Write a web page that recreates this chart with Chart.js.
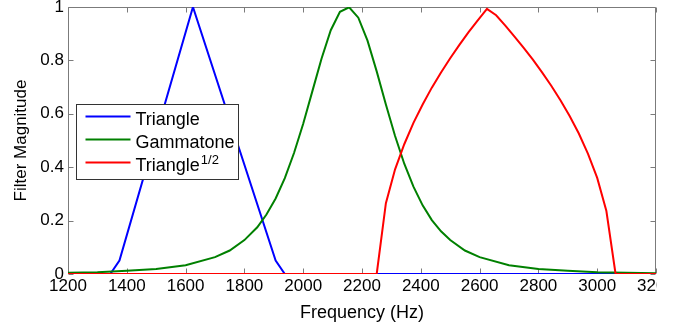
<!DOCTYPE html>
<html>
<head>
<meta charset="utf-8">
<script src="https://cdn.jsdelivr.net/npm/chart.js@4.4.1/dist/chart.umd.min.js"></script>
<style>
  html, body { margin: 0; padding: 0; background: #fff; }
</style>
</head>
<body>
<canvas id="filters" width="683" height="327"></canvas>
<script>
// frequency axis ticks and magnitude ticks
const xTicks = [1200, 1400, 1600, 1800, 2000, 2200, 2400, 2600, 2800, 3000, 3200];
const yTicks = [0, 0.2, 0.4, 0.6, 0.8, 1];

// Triangle filter
const triFreq = [1200, 1343.75, 1375, 1625, 1906.25, 1937.5, 3200];
const triMag = [0, 0, 0.05, 1, 0.05, 0, 0];

// Gammatone filter
const gamFreq = [1200, 1300, 1400, 1500, 1600, 1700, 1750, 1800,
  1843.75, 1875, 1906.25, 1937.5, 1968.75, 2000,
  2031.25, 2062.5, 2093.75, 2125, 2156.25, 2187.5,
  2218.75, 2250, 2281.25, 2312.5, 2343.75, 2375,
  2406.25, 2437.5, 2468.75, 2500,
  2550, 2600, 2700, 2800, 2900, 3000, 3100, 3200];
const gamMag = [0.005, 0.007, 0.012, 0.019, 0.033, 0.063, 0.088, 0.127,
  0.175, 0.223, 0.283, 0.359, 0.453, 0.563,
  0.685, 0.807, 0.913, 0.982, 0.999, 0.960,
  0.874, 0.759, 0.635, 0.517, 0.413, 0.327,
  0.257, 0.202, 0.160, 0.127,
  0.088, 0.063, 0.033, 0.019, 0.012, 0.007, 0.005, 0.003];

// Triangle^(1/2) filter
const sqrtFreq = [1200, 2250, 2281.25, 2312.5, 2343.75, 2375, 2406.25, 2437.5,
  2468.75, 2500, 2531.25, 2562.5, 2593.75, 2625, 2656.25, 2687.5, 2718.75,
  2750, 2781.25, 2812.5, 2843.75, 2875, 2906.25, 2937.5, 2968.75, 3000,
  3031.25, 3062.5, 3200];
const sqrtMag = [0, 0, 0.265, 0.392, 0.486, 0.566, 0.635, 0.698,
  0.755, 0.808, 0.858, 0.906, 0.950, 0.993, 0.969, 0.930, 0.889,
  0.847, 0.803, 0.755, 0.705, 0.651, 0.592, 0.526, 0.450, 0.360,
  0.236, 0, 0];

const FONT = "'Liberation Sans', Arial, Helvetica, sans-serif";
const AXIS_GRAY = '#7b7b7b';

function pairs(xs, ys) {
  return xs.map((x, i) => ({ x: x, y: ys[i] }));
}

// box + inward tick marks, matlab style
const framePlugin = {
  id: 'frame',
  beforeDatasetsDraw(chart) {
    const { ctx, chartArea: a, scales } = chart;
    const l = Math.round(a.left) + 0.5, r = Math.round(a.right) - 0.5;
    const t = Math.round(a.top) + 0.5, b = Math.round(a.bottom) - 0.5;
    ctx.save();
    ctx.strokeStyle = AXIS_GRAY;
    ctx.lineWidth = 1;
    ctx.beginPath();
    ctx.rect(l, t, r - l, b - t);
    xTicks.forEach(v => {
      const px = Math.round(scales.x.getPixelForValue(v)) + 0.5;
      ctx.moveTo(px, b); ctx.lineTo(px, b - 5);
      ctx.moveTo(px, t); ctx.lineTo(px, t + 5);
    });
    yTicks.forEach(v => {
      const py = Math.round(scales.y.getPixelForValue(v)) + 0.5;
      ctx.moveTo(l, py); ctx.lineTo(l + 5, py);
      ctx.moveTo(r, py); ctx.lineTo(r - 5, py);
    });
    ctx.stroke();
    ctx.restore();
  }
};

// legend box inside the plot, with superscript on the last label
const legendPlugin = {
  id: 'boxLegend',
  afterDatasetsDraw(chart) {
    const { ctx, chartArea: a } = chart;
    const x0 = Math.round(a.left) + 8.5, y0 = Math.round(a.top) + 97.5;
    const w = 162, h = 75;
    ctx.save();
    ctx.fillStyle = '#fff';
    ctx.fillRect(x0, y0, w, h);
    ctx.strokeStyle = '#333';
    ctx.lineWidth = 1;
    ctx.strokeRect(x0, y0, w, h);
    chart.data.datasets.forEach((ds, i) => {
      const ry = y0 + 12 + i * 23;
      ctx.strokeStyle = ds.borderColor;
      ctx.lineWidth = 2;
      ctx.beginPath();
      ctx.moveTo(x0 + 9, ry);
      ctx.lineTo(x0 + 54, ry);
      ctx.stroke();
      ctx.fillStyle = '#000';
      ctx.font = '18px ' + FONT;
      ctx.textBaseline = 'alphabetic';
      ctx.fillText(ds.label, x0 + 59, ry + 8);
      if (ds.sup) {
        const tw = ctx.measureText(ds.label).width;
        ctx.font = '13px ' + FONT;
        ctx.fillText(ds.sup, x0 + 59 + tw + 1, ry + 1);
      }
    });
    ctx.restore();
  }
};

// the original figure is cropped right after the axis, cutting the last label
const cropPlugin = {
  id: 'crop',
  afterDraw(chart) {
    const { ctx, chartArea: a } = chart;
    ctx.save();
    ctx.fillStyle = '#fff';
    ctx.fillRect(Math.round(a.right) + 1, Math.round(a.bottom) + 2, chart.width, chart.height);
    ctx.restore();
  }
};

const ctx = document.getElementById('filters');

new Chart(ctx, {
  type: 'line',
  data: {
    datasets: [
      { label: 'Triangle', data: pairs(triFreq, triMag), borderColor: '#0000ff', order: 3 },
      { label: 'Gammatone', data: pairs(gamFreq, gamMag), borderColor: '#008000', order: 2 },
      { label: 'Triangle', sup: '1/2', data: pairs(sqrtFreq, sqrtMag), borderColor: '#ff0000', order: 1 }
    ]
  },
  options: {
    responsive: false,
    animation: false,
    layout: { padding: { top: 7, right: 27, left: 0, bottom: 0 } },
    elements: {
      point: { radius: 0 },
      line: { borderWidth: 2, tension: 0, fill: false }
    },
    plugins: {
      legend: { display: false },
      tooltip: { enabled: false }
    },
    scales: {
      x: {
        type: 'linear',
        min: 1200,
        max: 3200,
        grid: { display: false, drawTicks: false },
        border: { display: false },
        afterBuildTicks: s => { s.ticks = xTicks.map(v => ({ value: v })); },
        afterFit: s => { s.height = 53; s.paddingLeft = 0; s.paddingRight = 0; },
        ticks: {
          color: '#000',
          font: { family: FONT, size: 17 },
          padding: 2,
          autoSkip: false,
          maxRotation: 0,
          callback: v => String(v)
        },
        title: {
          display: true,
          text: 'Frequency (Hz)',
          color: '#000',
          font: { family: FONT, size: 18 },
          padding: { top: 0, bottom: 3 }
        }
      },
      y: {
        min: 0,
        max: 1,
        grid: { display: false, drawTicks: false },
        border: { display: false },
        afterBuildTicks: s => { s.ticks = yTicks.map(v => ({ value: v })); },
        afterFit: s => { s.width = 68; s.paddingTop = 0; s.paddingBottom = 0; },
        ticks: {
          color: '#000',
          font: { family: FONT, size: 17 },
          padding: 4,
          callback: v => String(Math.round(v * 10) / 10)
        },
        title: {
          display: true,
          text: 'Filter Magnitude',
          color: '#000',
          font: { family: FONT, size: 17 },
          padding: { top: 11, bottom: 0 }
        }
      }
    }
  },
  plugins: [framePlugin, legendPlugin, cropPlugin]
});
</script>
</body>
</html>
